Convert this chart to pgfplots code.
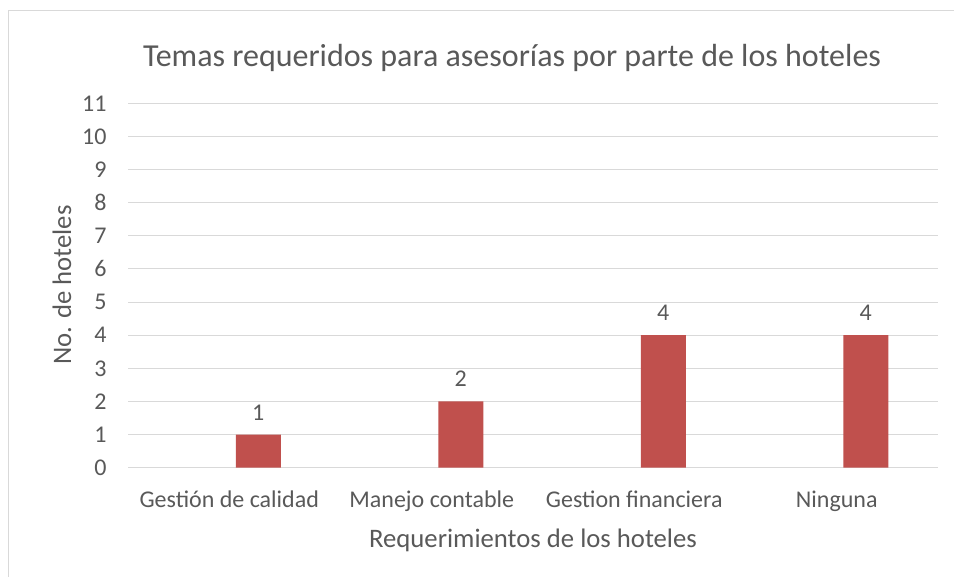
\documentclass[border=0pt]{standalone}
\usepackage{pgfplots}
\pgfplotsset{compat=1.18}
\usepackage{fontspec}
\setmainfont{Carlito}
\definecolor{barred}{HTML}{C0504D}
\definecolor{gridgray}{HTML}{D9D9D9}
\definecolor{txt}{HTML}{595959}
\begin{document}
\begin{tikzpicture}[x=1pt,y=1pt]
\path[use as bounding box] (0,0) rectangle (954,577);
\begin{scope}
\clip (0,0) rectangle (954,577);
\draw[gridgray, line width=1pt] (8,566) rectangle (1000,-20);
\end{scope}
\begin{axis}[
  at={(128pt,109.3pt)}, anchor=south west,
  scale only axis, width=810pt, height=364.4pt,
  xmin=-0.5, xmax=3.5, ymin=0, ymax=11,
  xtick={0,1,2,3},
  xticklabels={Gestión de calidad, Manejo contable, Gestion financiera, Ninguna},
  ytick={0,1,...,11},
  axis line style={draw=none},
  major tick length=0pt,
  ymajorgrids, grid style={gridgray, line width=1pt},
  /pgf/number format/assume math mode=true,
  ticklabel style={font=\fontsize{24}{28}\selectfont, text=txt},
  yticklabel style={xshift=-18pt},
  xticklabel style={yshift=-20pt},
  clip=false,
]
\addplot[ybar, bar width=45pt, bar shift=29pt, fill=barred, draw=none,
  nodes near coords, every node near coord/.append style={font=\fontsize{24}{28}\selectfont, text=txt, xshift=29pt, yshift=11pt}]
  coordinates {(0,1) (1,2) (2,4) (3,4)};
\end{axis}
\node[text=txt, font=\fontsize{32}{38}\selectfont] at (512,519) {Temas requeridos para asesorías por parte de los hoteles};
\node[text=txt, font=\fontsize{26.7}{32}\selectfont] at (533,37) {Requerimientos de los hoteles};
\node[text=txt, font=\fontsize{26.7}{32}\selectfont, rotate=90] at (62,292) {No. de hoteles};
\end{tikzpicture}
\end{document}
